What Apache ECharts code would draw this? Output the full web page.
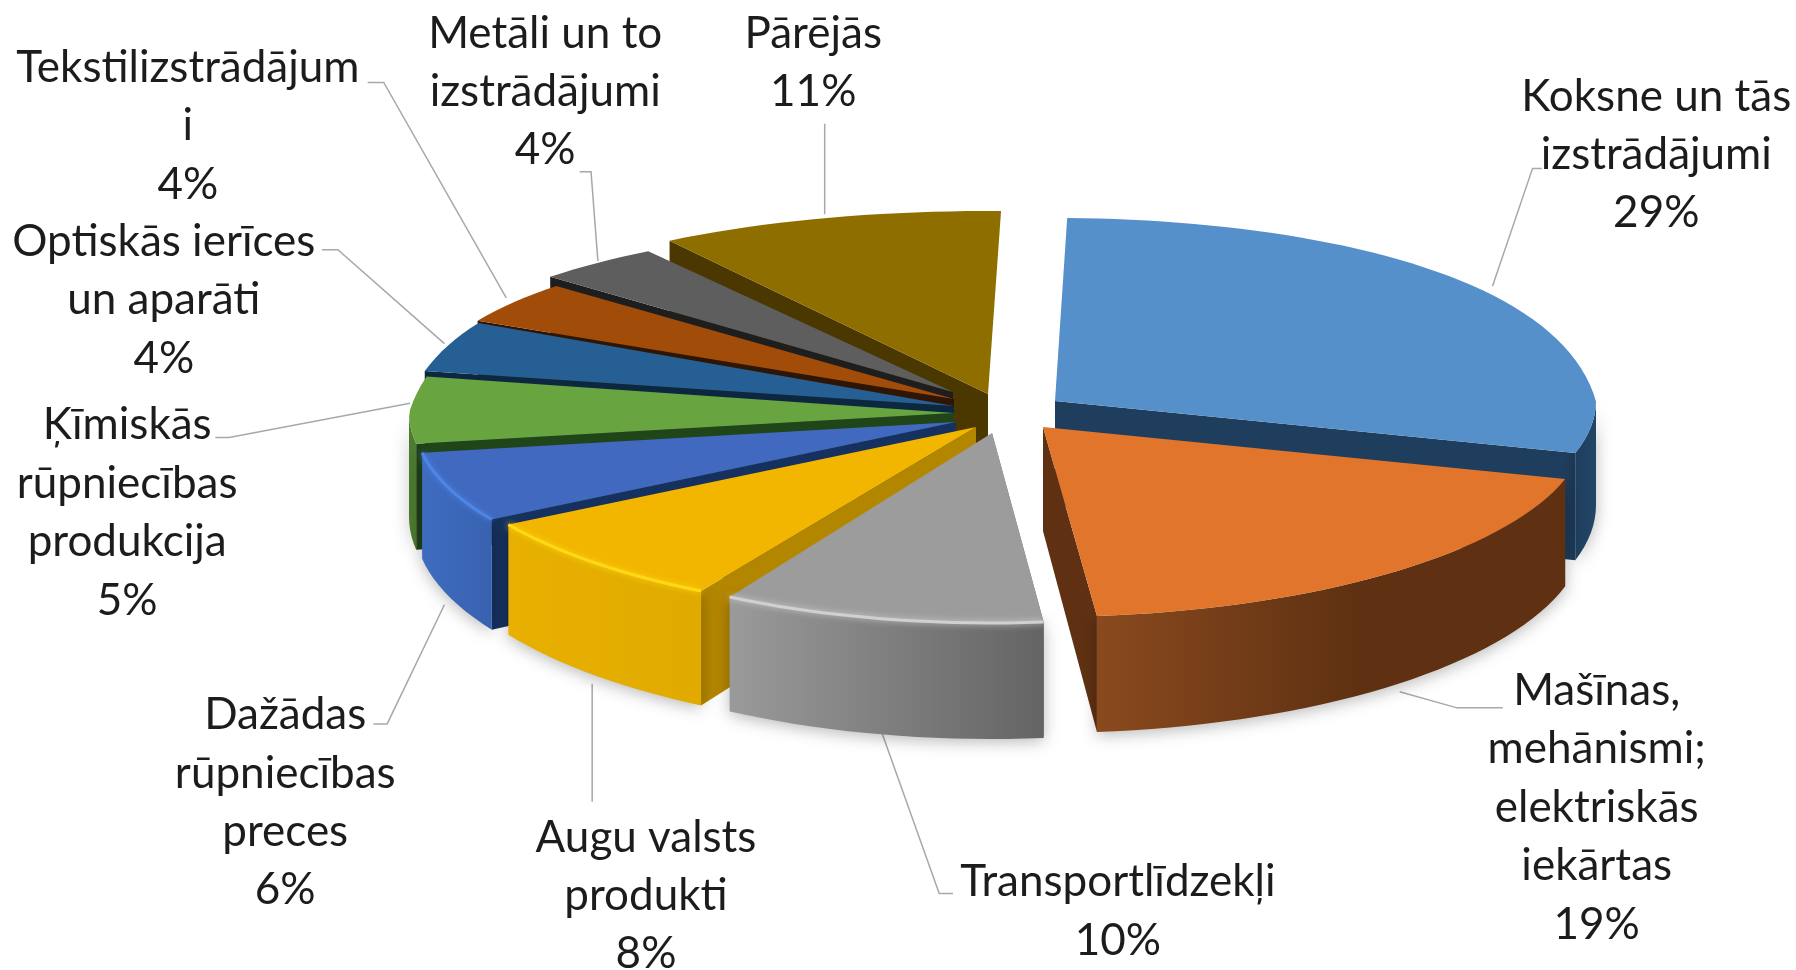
<!DOCTYPE html>
<html>
<head>
<meta charset="utf-8">
<title>Pie</title>
<script src="https://cdn.jsdelivr.net/npm/echarts@6/dist/echarts.min.js"></script>
<style>
html,body{margin:0;padding:0;background:#fff}
#main{width:1796px;height:970px}
</style>
</head>
<body>
<div id="main"></div>
<script>
// values as printed on the labels, clockwise from the top
var names = ['Koksne un tās\nizstrādājumi', 'Mašīnas,\nmehānismi;\nelektriskās\niekārtas', 'Transportlīdzekļi',
    'Augu valsts\nprodukti', 'Dažādas\nrūpniecības\npreces', 'Ķīmiskās\nrūpniecības\nprodukcija',
    'Optiskās ierīces\nun aparāti', 'Tekstilizstrādājum\ni', 'Metāli un to\nizstrādājumi', 'Pārējās'];
var shares = [29, 19, 10, 8, 6, 5, 4, 4, 4, 11];

// look of each slice, same order as names
var topColors  = ['#5590cb', '#e0752b', '#9c9c9c', '#f2b500', '#4069bf', '#68a43f', '#255f93', '#a24c0a', '#5e5e5e', '#8f6e00'];
var wallLeft   = ['#1f3e5e', '#8a4a1e', '#9a9a9a', '#e8b000', '#3f6cc0', '#4c7a2e', '#1b4a75', '#7a3a08', '#444444', '#6b5200'];
var wallRight  = ['#234666', '#5f3112', '#646464', '#e0aa00', '#3862b0', '#4c7a2e', '#1b4a75', '#7a3a08', '#444444', '#6b5200'];
var wallStop   = [1, 0.55, 1, 1, 1, 1, 1, 1, 1, 1];
var sideColors = ['#1f3e5e', '#5f3112', '#6a6a6a', '#b38600', '#16315f', '#1f4518', '#0c2740', '#2e1504', '#1e1e1e', '#4a3800'];
var rimColors  = [null, null, '#d0d0d0', '#ffd916', '#4f86e6', null, null, null, null, null];

// where each slice sits after its explosion, and its projected size
var apexX   = [1055, 1043, 992, 976, 956, 954, 954, 954, 953, 988];
var apexY   = [401, 427, 433, 427, 422, 413, 406, 399, 392, 394];
var radiusX = [541, 543, 520, 545, 541, 545, 547, 548, 555, 580];
var radiusY = [183, 183, 183, 183, 183, 183, 175, 165, 168, 183];
var frontY = 190;
var rotation = 1.5;
var paintOrder = [9, 8, 7, 6, 5, 4, 3, 2, 0, 1];

var S = 1796 / 1568;
// first line centre of each label, in the 1568 wide reading of the picture
var labelX = [1446, 1394, 976, 564, 249, 111, 143, 164, 476, 710];
var labelY = [84, 603, 770, 731, 624, 371, 211, 59, 29, 29];
var leaders = [
    [[1303, 250], [1338, 147], [1346, 147]],
    [[1222, 604], [1272, 618], [1312, 618]],
    [[770, 640], [820, 780], [832, 780]],
    [[517, 597], [517, 700]],
    [[388, 528], [338, 632], [326, 632]],
    [[358, 352], [200, 382], [188, 382]],
    [[388, 300], [295, 218], [281, 218]],
    [[442, 260], [335, 72], [321, 72]],
    [[522, 228], [516, 150], [506, 150]],
    [[720, 187], [720, 108]]
];

var starts = [], ends = [];
var total = 0, sum = 0;
for (var i = 0; i < shares.length; i++) total += shares[i];
for (var i = 0; i < shares.length; i++) {
    starts.push(sum / total * 360 + rotation);
    sum += shares[i];
    ends.push(sum / total * 360 + rotation);
}

// flat circle to screen, the far half is squeezed a little like excel does
function rim(i, deg) {
    var r = deg * Math.PI / 180;
    var sx = Math.sin(r), sy = -Math.cos(r);
    var x, y;
    if (sy < 0) {
        x = sx * (1 + 0.14 * sy) * radiusX[i];
        y = sy * 1.4 / (1 - 0.4 * sy) * radiusY[i];
    } else {
        x = sx * radiusX[i];
        y = sy * frontY;
    }
    return [apexX[i] + x, apexY[i] + y];
}
function depth(deg) {
    var sy = -Math.cos(deg * Math.PI / 180);
    return 104 + 12 * Math.max(sy, 0);
}
function arc(i, a, b) {
    var pts = [];
    var n = Math.max(2, Math.ceil((b - a) / 2));
    for (var k = 0; k <= n; k++) pts.push(rim(i, a + (b - a) * k / n));
    return pts;
}
function sideWall(i, deg) {
    var p = rim(i, deg), d = depth(deg);
    return {
        type: 'polygon',
        shape: {points: [[apexX[i], apexY[i]], p, [p[0], p[1] + d], [apexX[i], apexY[i] + 104]]},
        style: {fill: sideColors[i]}
    };
}

function renderSlice(params, api) {
    var i = api.value(0);
    var a = starts[i], b = ends[i];
    var kids = [];
    // radial walls, only the one that faces the viewer
    kids.push(sideWall(i, a < 180 + rotation && b <= 180 + rotation ? b : a));
    // outer wall on the near half
    var wa = Math.max(a, 90), wb = Math.min(b, 270);
    if (wb > wa) {
        var upper = arc(i, wa, wb);
        var lower = [];
        for (var k = upper.length - 1; k >= 0; k--) {
            var deg = wa + (wb - wa) * k / (upper.length - 1);
            lower.push([upper[k][0], upper[k][1] + depth(deg)]);
        }
        var stops = [{offset: 0, color: wallLeft[i]}, {offset: wallStop[i], color: wallRight[i]}];
        if (wallStop[i] < 1) stops.push({offset: 1, color: wallRight[i]});
        kids.push({
            type: 'polygon',
            shape: {points: upper.concat(lower)},
            style: {
                fill: {type: 'linear', x: 0, y: 0, x2: 1, y2: 0, colorStops: stops},
                shadowBlur: 16, shadowColor: 'rgba(0,0,0,0.28)', shadowOffsetY: 3
            }
        });
    }
    // top face
    var face = [[apexX[i], apexY[i]]].concat(arc(i, a, b));
    kids.push({type: 'polygon', shape: {points: face}, style: {fill: topColors[i]}});
    if (rimColors[i] && wb > wa) {
        kids.push({
            type: 'polyline',
            shape: {points: arc(i, wa, wb)},
            style: {fill: null, stroke: rimColors[i], lineWidth: 3, shadowBlur: 6, shadowColor: rimColors[i]}
        });
    }
    return {type: 'group', children: kids};
}

var graphics = [];
for (var i = 0; i < names.length; i++) {
    var line = [];
    for (var j = 0; j < leaders[i].length; j++) line.push([leaders[i][j][0] * S, leaders[i][j][1] * S]);
    graphics.push({
        type: 'polyline', silent: true, z: 1,
        shape: {points: line},
        style: {fill: null, stroke: '#a8a8a8', lineWidth: 1.5}
    });
    graphics.push({
        type: 'text', silent: true, z: 5,
        x: labelX[i] * S,
        y: labelY[i] * S - 29,
        style: {
            text: names[i] + '\n' + shares[i] + '%',
            fontFamily: 'Lato', fontSize: 44, lineHeight: 58.4,
            align: 'center', verticalAlign: 'top',
            textAlign: 'center', textVerticalAlign: 'top',
            fill: '#1c1c1c'
        }
    });
}

var order = [];
for (var i = 0; i < paintOrder.length; i++) order.push([paintOrder[i]]);

var myChart = echarts.init(document.getElementById('main'));
myChart.setOption({
    animation: false,
    backgroundColor: '#ffffff',
    graphic: {elements: graphics},
    series: [{
        type: 'custom',
        coordinateSystem: 'none',
        silent: true,
        z: 3,
        renderItem: renderSlice,
        data: order
    }]
});
</script>
</body>
</html>
